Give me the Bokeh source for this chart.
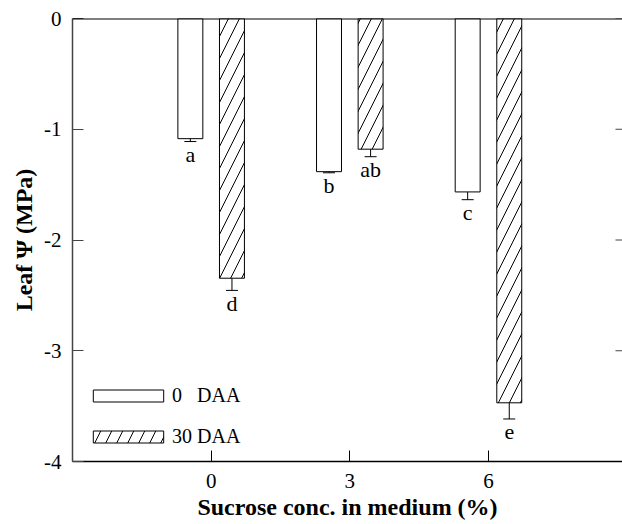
import numpy as np
from bokeh.plotting import figure
from bokeh.models import (ColumnDataSource, Whisker, TeeHead, Span,
                          FixedTicker, Legend, LegendItem, Range1d)
from bokeh.core.properties import value
from bokeh.embed import file_html
from bokeh.resources import INLINE

# ---- data ----
sucrose = [0, 3, 6]
daa0 = [-1.085, -1.383, -1.566]
daa0_err = [0.026, 0.01, 0.07]
daa30 = [-2.345, -1.18, -3.47]
daa30_err = [0.11, 0.068, 0.146]
letters0 = ["a", "b", "c"]
letters30 = ["d", "ab", "e"]
series_labels = ["0\u00a0\u00a0\u00a0DAA", "30 DAA"]
y_ticks = [0, -1, -2, -3, -4]
y_tick_labels = ["0", "-1", "-2", "-3", "-4"]

FONT = "Liberation Serif"
OFF = 0.45
BW = 0.54
X_START, X_END = -3, 8.9

src = ColumnDataSource(dict(
    x0=[s - OFF for s in sucrose],
    x30=[s + OFF for s in sucrose],
    v0=daa0, v30=daa30,
    u0=[v + e for v, e in zip(daa0, daa0_err)],
    l0=[v - e for v, e in zip(daa0, daa0_err)],
    u30=[v + e for v, e in zip(daa30, daa30_err)],
    l30=[v - e for v, e in zip(daa30, daa30_err)],
    lab0=letters0, lab30=letters30,
))

p = figure(frame_width=550, frame_height=443,
           x_range=Range1d(X_START, X_END), y_range=Range1d(-4, 0),
           output_backend="svg", toolbar_location=None,
           min_border_left=72, min_border_right=0,
           min_border_top=18, min_border_bottom=60)
p.xgrid.visible = False
p.ygrid.visible = False
p.outline_line_color = None
p.background_fill_color = "white"
p.border_fill_color = "white"

r0 = p.vbar(x="x0", top=0, bottom="v0", width=BW, fill_color="white",
            line_color="black", line_width=1, source=src)
r30 = p.vbar(x="x30", top=0, bottom="v30", width=BW, fill_color="white",
             line_color="black", line_width=1, hatch_pattern="/",
             hatch_scale=22, hatch_weight=1, hatch_color="black", source=src)

for xs, us, ls in (("x0", "u0", "l0"), ("x30", "u30", "l30")):
    w = Whisker(base=xs, upper=us, lower=ls, source=src,
                line_color="black", line_width=1,
                upper_head=TeeHead(size=12, line_color="black", line_width=1),
                lower_head=TeeHead(size=12, line_color="black", line_width=1))
    p.add_layout(w)

for xs, ls, labs in (("x0", "l0", "lab0"), ("x30", "l30", "lab30")):
    p.text(x=xs, y=ls, text=labs, source=src, text_align="center",
           text_baseline="alphabetic", y_offset=13,
           text_font=value(FONT), text_font_size="22px", text_color="black")

# axes
xa = p.xaxis[0]
xa.ticker = FixedTicker(ticks=sucrose)
xa.axis_label = "Sucrose conc. in medium (%)"
ya = p.yaxis[0]
ya.ticker = FixedTicker(ticks=y_ticks)
ya.major_label_overrides = {t: l for t, l in zip(y_ticks, y_tick_labels)}
ya.axis_label = "Leaf \u03a8 (MPa)"
for ax in (xa, ya):
    ax.major_tick_in = 11
    ax.major_tick_out = 0
    ax.minor_tick_line_color = None
    ax.major_label_text_font = FONT
    ax.major_label_text_font_size = "21px"
    ax.major_label_text_color = "black"
    ax.axis_label_text_font = FONT
    ax.axis_label_text_font_size = "24px"
    ax.axis_label_text_font_style = "bold"
    ax.axis_label_text_color = "black"
    ax.axis_line_width = 1.5
    ax.major_tick_line_width = 1
xa.axis_line_color = "black"
xa.major_tick_line_color = "black"
ya.axis_line_color = "#444444"
ya.major_tick_line_color = "#444444"
xa.major_label_standoff = 12
xa.axis_label_standoff = 3
ya.major_label_standoff = 11
ya.axis_label_standoff = 4

# top frame line
p.add_layout(Span(location=0, dimension="width", line_color="black",
                  line_width=2))
# right side inward ticks
p.ray(x=X_END, y=y_ticks, length=7, length_units="screen", angle=np.pi,
      line_color="#444444", line_width=1)

legend = Legend(items=[LegendItem(label=series_labels[0], renderers=[r0]),
                       LegendItem(label=series_labels[1], renderers=[r30])],
                location=(12, 13), glyph_width=88, glyph_height=15,
                label_standoff=0, spacing=18, padding=0, margin=0,
                label_text_font=FONT, label_text_font_size="20px",
                label_text_color="black", border_line_color=None,
                background_fill_alpha=0)
p.add_layout(legend)

open("out.html", "w").write(file_html(p, INLINE))
